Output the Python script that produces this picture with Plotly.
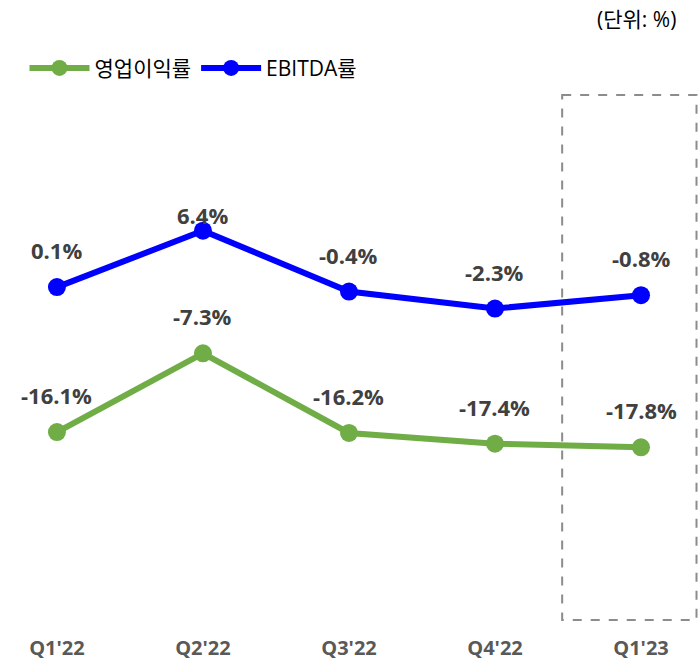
import plotly.graph_objects as go

categories = ["Q1'22", "Q2'22", "Q3'22", "Q4'22", "Q1'23"]
op_margin = [-16.1, -7.3, -16.2, -17.4, -17.8]
ebitda_margin = [0.1, 6.4, -0.4, -2.3, -0.8]
series_names = ["영업이익률", "EBITDA률"]
unit_text = "(단위: %)"

GREEN = "#70AD47"
BLUE = "#0000FF"
LABEL_COLOR = "#404040"
FONT = "Open Sans, Noto Sans CJK KR, sans-serif"

fig = go.Figure()
for name, vals, col in [(series_names[0], op_margin, GREEN), (series_names[1], ebitda_margin, BLUE)]:
    fig.add_trace(go.Scatter(
        x=categories, y=vals, name=name, mode="lines+markers",
        line=dict(color=col, width=6),
        marker=dict(color=col, size=18),
        hoverinfo="skip",
    ))

# data labels
for vals in (op_margin, ebitda_margin):
    peak = max(vals)
    for c, v in zip(categories, vals):
        shift = 16 if (v == peak and vals is ebitda_margin) else 37
        fig.add_annotation(
            x=c, y=v, text=f"<b>{v:.1f}%</b>", showarrow=False,
            yshift=shift, font=dict(family=FONT, size=22, color=LABEL_COLOR),
        )

# dashed highlight box around latest quarter
fig.add_shape(type="rect", xref="x", yref="y", x0=3.46, x1=4.38, y0=21.56, y1=-37.09,
              line=dict(color="#8C8C8C", width=2, dash="dash"), fillcolor="rgba(0,0,0,0)")

fig.add_annotation(xref="paper", yref="paper", x=0.969, y=0.969, xanchor="right", yanchor="middle",
                   text=unit_text, showarrow=False, font=dict(family=FONT, size=21, color="#000000"))

fig.update_layout(
    width=700, height=661,
    margin=dict(l=0, r=0, t=0, b=40),
    paper_bgcolor="white", plot_bgcolor="white",
    font=dict(family=FONT),
    showlegend=True,
    legend=dict(orientation="h", x=0.035, y=0.89, xanchor="left", yanchor="middle",
                font=dict(family=FONT, size=21, color="#000000"),
                itemwidth=60, bgcolor="rgba(0,0,0,0)"),
    xaxis=dict(type="category", range=[-0.39, 4.404], showgrid=False, zeroline=False,
               showline=False, ticks="", ticklabelstandoff=13,
               tickfont=dict(family=FONT, size=20, color="#595959", weight="bold")),
    yaxis=dict(range=[-37.21, 32.18], showgrid=False, zeroline=False, showline=False,
               showticklabels=False, ticks=""),
)

fig.write_html("out.html", config={"displayModeBar": False},
               post_script="document.body.style.margin='0';document.body.style.overflow='hidden';")
